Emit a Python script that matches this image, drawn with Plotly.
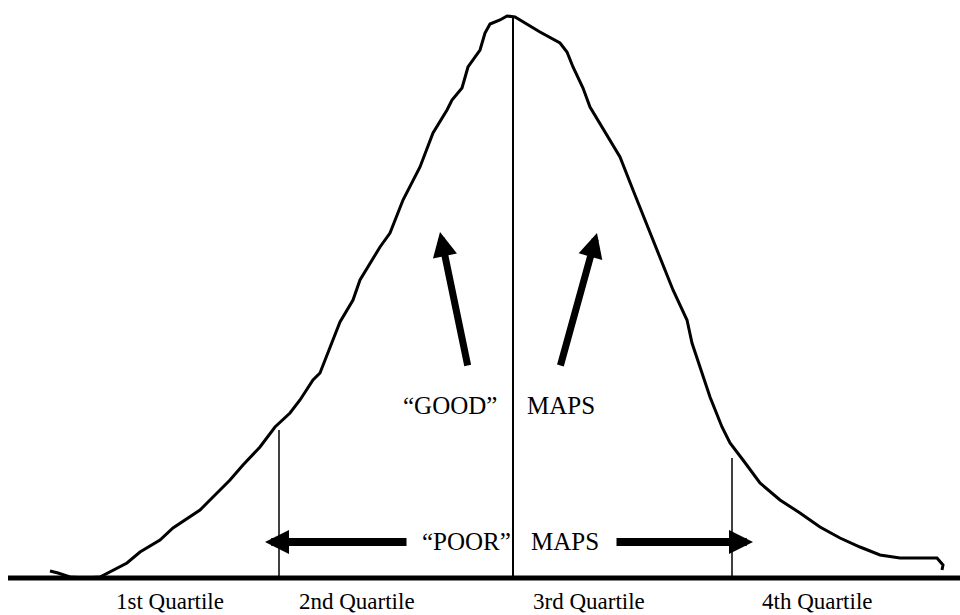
import plotly.graph_objects as go

# ---- data (x in px from left, height above baseline) ----
BASE = 578
curve_px_x = [50, 58, 70, 85, 100, 117, 127, 140, 160, 173, 190, 200, 213, 230, 243, 260,
              275, 290, 300, 313, 320, 340, 353, 360, 380, 390, 403, 420, 433, 447, 452,
              462, 468, 480, 485, 490, 500, 507, 515, 520, 540, 560, 567, 573, 583, 590,
              610, 620, 633, 650, 660, 673, 687, 692, 700, 710, 722, 730, 743, 760, 780,
              800, 820, 840, 860, 880, 900, 937, 943, 942]
curve_px_y = [571, 573, 577, 578, 577, 568, 563, 552, 540, 528, 517, 510, 497, 480, 465, 447,
              427, 413, 400, 380, 373, 322, 300, 280, 247, 233, 200, 167, 133, 110, 100,
              88, 67, 50, 33, 24, 20, 16, 17, 20, 32, 43, 52, 67, 88, 107,
              140, 157, 190, 233, 257, 290, 320, 343, 367, 397, 427, 443, 460, 483, 500,
              513, 527, 538, 547, 555, 558, 558, 565, 570]
curve_x = curve_px_x
curve_y = [BASE - v for v in curve_px_y]

# quartile divider lines (x, top pixel y)
divider_x = [279, 513, 732]
divider_top_px = [430, 16, 458]
divider_width = [1.5, 2, 1.5]

quartile_labels = ["1st Quartile", "2nd Quartile", "3rd Quartile", "4th Quartile"]
quartile_label_x = [170, 357, 589, 817]

# arrows: (tail_x, tail_ypx, tip_x, tip_ypx)
good_arrows = [(468, 367, 440, 232), (560, 367, 597, 233)]
poor_arrows = [(408, 542, 265, 542), (615, 542, 753, 542)]

FAMILY = "Liberation Serif, Times New Roman, serif"
FONT_LABEL = dict(family=FAMILY, size=23, color="black")
FONT_MID = dict(family=FAMILY, size=25, color="black")

fig = go.Figure()

# baseline axis
fig.add_shape(type="line", x0=8, x1=960, y0=0, y1=0, xref="x", yref="y",
              line=dict(color="black", width=5))

# divider lines
for dx, top, w in zip(divider_x, divider_top_px, divider_width):
    fig.add_trace(go.Scatter(x=[dx, dx], y=[0, BASE - top], mode="lines",
                             line=dict(color="black", width=w), hoverinfo="skip",
                             showlegend=False))

# bell curve
fig.add_trace(go.Scatter(x=curve_x, y=curve_y, mode="lines",
                         line=dict(color="black", width=3), showlegend=False,
                         hoverinfo="skip"))

annotations = []
for lab, lx in zip(quartile_labels, quartile_label_x):
    annotations.append(dict(x=lx, y=BASE - 615, text=lab, showarrow=False,
                            xanchor="center", yanchor="bottom", borderpad=0,
                            font=FONT_LABEL))

annotations += [
    dict(x=450, y=BASE - 405, text="\u201cGOOD\u201d", showarrow=False, font=FONT_MID),
    dict(x=561, y=BASE - 405, text="MAPS", showarrow=False, font=FONT_MID),
    dict(x=466, y=BASE - 541, text="\u201cPOOR\u201d", showarrow=False, font=FONT_MID),
    dict(x=565, y=BASE - 541, text="MAPS", showarrow=False, font=FONT_MID),
]

for tx, ty, hx, hy in good_arrows:
    annotations.append(dict(x=hx, y=BASE - hy, ax=tx, ay=BASE - ty, xref="x", yref="y",
                            axref="x", ayref="y", text="", showarrow=True,
                            arrowhead=2, arrowsize=0.7, arrowwidth=7,
                            arrowcolor="black", standoff=0))
for tx, ty, hx, hy in poor_arrows:
    annotations.append(dict(x=hx, y=BASE - hy, ax=tx, ay=BASE - ty, xref="x", yref="y",
                            axref="x", ayref="y", text="", showarrow=True,
                            arrowhead=2, arrowsize=0.6, arrowwidth=8,
                            arrowcolor="black", standoff=0))

fig.update_layout(
    width=960, height=615,
    margin=dict(l=0, r=0, t=0, b=0),
    paper_bgcolor="white", plot_bgcolor="white",
    xaxis=dict(range=[0, 960], visible=False, fixedrange=True),
    yaxis=dict(range=[BASE - 615, BASE], visible=False, fixedrange=True),
    annotations=annotations,
    showlegend=False,
)

fig.write_html(
    "out.html",
    config={"displayModeBar": False},
    post_script="document.body.style.margin='0';document.body.style.overflow='hidden';",
)
